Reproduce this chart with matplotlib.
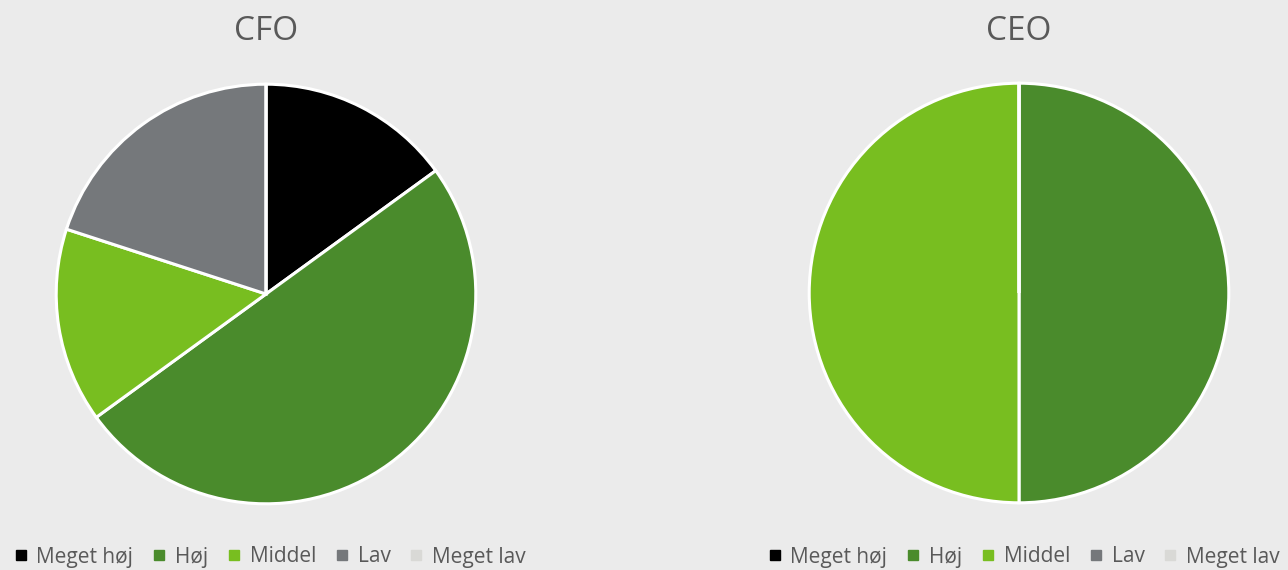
import matplotlib.pyplot as plt
from matplotlib.lines import Line2D

plt.rcParams['font.family'] = ['Open Sans', 'DejaVu Sans']

# data
categories = ["Meget høj", "Høj", "Middel", "Lav", "Meget lav"]
colors = ["#000000", "#4A8B2C", "#78BE20", "#75787B", "#D9D9D6"]
cfo_values = [15, 50, 15, 20, 0]
ceo_values = [0, 50, 50, 0, 0]

bg = "#EBEBEB"
W, H = 1288, 570
fig = plt.figure(figsize=(W / 100, H / 100), dpi=100, facecolor=bg)


def draw_pie(cx, cy, r, values, title):
    ax = fig.add_axes([(cx - r) / W, (H - cy - r) / H, 2 * r / W, 2 * r / H])
    ax.set_facecolor(bg)
    ax.pie(values, colors=colors, startangle=90, counterclock=False, radius=1,
           wedgeprops=dict(edgecolor="white", linewidth=2.2))
    ax.set_xlim(-1.02, 1.02)
    ax.set_ylim(-1.02, 1.02)
    ax.axis("off")
    fig.text(cx / W, 1 - 32 / H, title, ha="center", va="center",
             fontsize=24, color="#595959")


draw_pie(266, 294, 214, cfo_values, "CFO")
draw_pie(1019, 293, 214, ceo_values, "CEO")

handles = [Line2D([], [], marker="s", linestyle="none", markersize=7,
                  markerfacecolor=c, markeredgecolor=c) for c in colors]

for x in (270 / W, 1024 / W):
    fig.legend(handles, categories, loc="center", bbox_to_anchor=(x, 1 - 557 / H),
               ncol=5, frameon=False, fontsize=15, labelcolor="#595959",
               handlelength=0.6, handletextpad=0.45, columnspacing=0.95,
               borderpad=0, borderaxespad=0)

plt.savefig("out.png", dpi=100, facecolor=bg)
